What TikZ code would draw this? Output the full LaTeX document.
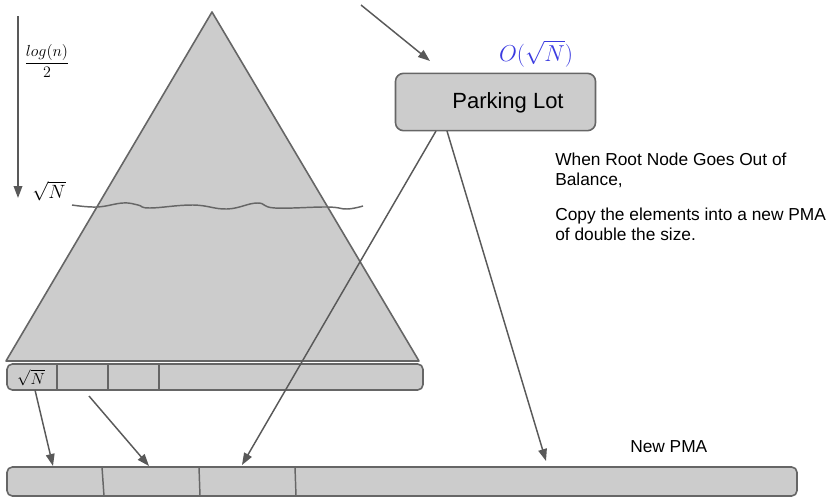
\documentclass[tikz,border=0pt]{standalone}
\usepackage{amsmath}
\usepackage[no-math]{fontspec}
\setmainfont{Liberation Sans}
\usetikzlibrary{arrows.meta}
\definecolor{cellfill}{HTML}{CCCCCC}
\definecolor{edgegray}{HTML}{666666}
\definecolor{arrowgray}{HTML}{595959}
\definecolor{mathblue}{HTML}{3A3AE0}

\begin{document}
\begin{tikzpicture}[x=0.75pt,y=-0.75pt,
  outline/.style={draw=edgegray, line width=1.2pt, line join=round},
  cellbar/.style={outline, fill=cellfill, rounded corners=4pt},
  divider/.style={draw=edgegray, line width=1.1pt},
  pointer/.style={draw=arrowgray, line width=1.1pt,
    -{Triangle[length=9pt,width=6.5pt]}},
  bodytext/.style={font=\fontsize{13}{15}\selectfont, inner sep=0pt},
  mathlabel/.style={inner sep=0pt}
]
\useasboundingbox (0,0) rectangle (832,500);

% the tree drawn as a triangle
\draw[outline, fill=cellfill] (212,12) coordinate (apex)
  -- (419,361) coordinate (baseR) -- (6,361) coordinate (baseL) -- cycle;

% cut level of the tree
\draw[draw=edgegray, line width=1.1pt] plot[smooth, tension=0.7] coordinates {
  (72,205) (97,207) (123,203) (138,205) (150,208) (193,205)
  (227,209) (257,203) (275,208) (327,207) (347,209) (363,206)};

% depth arrow with its labels
\coordinate (depthTop) at (18,16);
\coordinate (depthEnd) at (18,198);
\draw[pointer] (depthTop) -- (depthEnd);
\node[mathlabel, font=\fontsize{11.5}{13}\selectfont] (depth) at (47,61)
  {$\dfrac{log(n)}{2}$};
\node[mathlabel, font=\fontsize{14}{16}\selectfont] (cutlabel) at (49,191)
  {$\sqrt{N}$};

% the old PMA under the tree
\draw[cellbar] (7,364) rectangle (423,390);
\draw[divider] (57,364) -- (57,390);
\draw[divider] (108,364) -- (108,390);
\draw[divider] (159,364) -- (159,390);
\node[mathlabel, font=\fontsize{13}{15}\selectfont] (cell) at (31,378)
  {$\sqrt{N}$};

% parking lot
\node[cellbar, minimum width=150pt, minimum height=43pt,
  rounded corners=6pt] (park) at (495.5,102) {};
\node[bodytext, font=\fontsize{16.5}{19}\selectfont] (parklabel) at (508,103)
  {Parking Lot};
\node[mathlabel, font=\fontsize{16.5}{19}\selectfont, text=mathblue]
  (parksize) at (536,54) {$O(\sqrt{N})$};
\coordinate (inflow) at (361,5);
\draw[pointer] (inflow) -- (430,61);

% explanation
\node[bodytext, anchor=base west, align=left] (note1) at (555,185)
  {When Root Node Goes Out of\\Balance,};
\node[bodytext, anchor=base west, align=left] (note2) at (555,240)
  {Copy the elements into a new PMA\\of double the size.};

% the new PMA
\node[bodytext, anchor=base west] (newlabel) at (630,452) {New PMA};
\draw[cellbar] (7,467) rectangle (797,496);
\draw[divider] (102,467) -- (104,496);
\draw[divider] (199,467) -- (200,496);
\draw[divider] (295,467) -- (296,496);

% copying arrows
\coordinate (src1) at (35,390);
\coordinate (dst1) at (53,466);
\coordinate (src2) at (89,396);
\coordinate (dst2) at (149,466);
\coordinate (lotA) at (436,131);
\coordinate (dst3) at (242,465);
\coordinate (lotB) at (447,131);
\coordinate (dst4) at (546,461);
\draw[pointer] (src1) -- (dst1);
\draw[pointer] (src2) -- (dst2);
\draw[pointer] (lotA) -- (dst3);
\draw[pointer] (lotB) -- (dst4);
\end{tikzpicture}
\end{document}
